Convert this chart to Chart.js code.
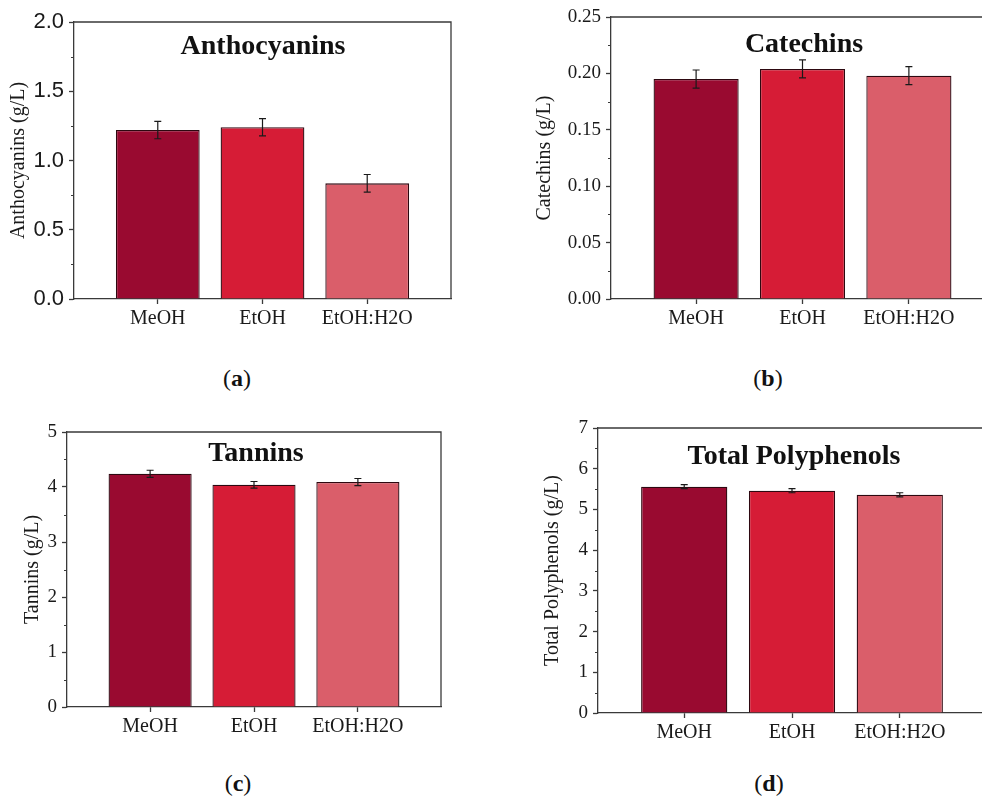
<!DOCTYPE html>
<html>
<head>
<meta charset="utf-8">
<script src="https://cdn.jsdelivr.net/npm/chart.js@4.4.1/dist/chart.umd.min.js"></script>
<style>
  body { margin: 0; width: 982px; height: 796px; overflow: hidden; background: #fff; position: relative; font-family: 'Liberation Serif', serif; }
  canvas { position: absolute; }
  .lbl { position: absolute; font-size: 24px; color: #111; transform: translate(-50%, -50%); white-space: nowrap; }
</style>
</head>
<body>
<canvas id="chartA"></canvas>
<canvas id="chartB"></canvas>
<canvas id="chartC"></canvas>
<canvas id="chartD"></canvas>
<div class="lbl" style="left:237px;top:378px">(<b>a</b>)</div>
<div class="lbl" style="left:768px;top:378px">(<b>b</b>)</div>
<div class="lbl" style="left:238px;top:783px">(<b>c</b>)</div>
<div class="lbl" style="left:769px;top:783px">(<b>d</b>)</div>
<script>
// datos
var solvents = ['MeOH', 'EtOH', 'EtOH:H2O'];
var xPos = [1, 2, 3];
var barColors = ['#990a30', '#d61c36', '#da5e6a'];

var anthocyanins = [1.22, 1.24, 0.835];
var anthocyaninsErr = [0.063, 0.062, 0.064];
var catechins = [0.195, 0.204, 0.198];
var catechinsErr = [0.008, 0.008, 0.008];
var tannins = [4.24, 4.04, 4.09];
var tanninsErr = [0.065, 0.06, 0.065];
var polyphenols = [5.56, 5.46, 5.36];
var polyphenolsErr = [0.05, 0.05, 0.05];

// rangos de los ejes y
var anthoMax = 2, anthoStep = 0.5;
var catMax = 0.25, catStep = 0.05;
var tanMax = 5, tanStep = 1;
var polyMax = 7, polyStep = 1;

var serif = "'Liberation Serif', serif";
var axisColor = '#3a3a3a';
var textColor = '#1a1a1a';

// marco, ticks menores, titulo y barras de error
var deco = {
  id: 'deco',
  afterDatasetsDraw: (chart, args, o) => {
    var ctx = chart.ctx;
    var y = chart.scales.y;
    var meta = chart.getDatasetMeta(0);
    ctx.save();
    ctx.strokeStyle = '#1a1a1a';
    ctx.lineWidth = 1.2;
    meta.data.forEach((bar, i) => {
      var top = y.getPixelForValue(o.values[i] + o.err[i]);
      var bot = y.getPixelForValue(o.values[i] - o.err[i]);
      ctx.beginPath();
      ctx.moveTo(bar.x, top); ctx.lineTo(bar.x, bot);
      ctx.moveTo(bar.x - 3.5, top); ctx.lineTo(bar.x + 3.5, top);
      ctx.moveTo(bar.x - 3.5, bot); ctx.lineTo(bar.x + 3.5, bot);
      ctx.stroke();
    });
    ctx.restore();
  },
  afterDraw: (chart, args, o) => {
    var ctx = chart.ctx;
    var a = chart.chartArea;
    var y = chart.scales.y;
    ctx.save();
    ctx.strokeStyle = axisColor;
    ctx.lineWidth = 1.3;
    ctx.beginPath();
    ctx.moveTo(a.left, a.top); ctx.lineTo(a.right, a.top); ctx.lineTo(a.right, a.bottom);
    ctx.stroke();
    ctx.lineWidth = 1;
    ctx.beginPath();
    for (var v = o.step / 2; v < o.max; v += o.step) {
      var py = Math.round(y.getPixelForValue(v)) + 0.5;
      ctx.moveTo(a.left, py); ctx.lineTo(a.left - 3, py);
    }
    ctx.stroke();
    ctx.fillStyle = '#111';
    ctx.font = 'bold 28px ' + serif;
    ctx.textAlign = 'center';
    ctx.textBaseline = 'middle';
    ctx.fillText(o.title, o.tx, o.ty);
    ctx.restore();
  }
};

panel = (id, box, area, o) => {
  var cv = document.getElementById(id);
  cv.width = box.w; cv.height = box.h;
  cv.style.left = box.x + 'px';
  cv.style.top = box.y + 'px';
  var yw = area.l - box.x;
  var xh = box.y + box.h - area.b;
  return new Chart(cv, {
    type: 'bar',
    data: {
      datasets: [{
        data: xPos.map((x, i) => ({ x: x, y: o.values[i] })),
        backgroundColor: barColors,
        borderColor: '#2d0810',
        borderWidth: 1.3,
        barPercentage: 1,
        categoryPercentage: 0.8
      }]
    },
    options: {
      responsive: false,
      animation: false,
      events: [],
      layout: { padding: { left: 0, top: area.t - box.y, right: box.x + box.w - area.r, bottom: 0 } },
      plugins: {
        legend: { display: false },
        tooltip: { enabled: false },
        deco: { values: o.values, err: o.err, max: o.max, step: o.step, title: o.title, tx: o.tx - box.x, ty: o.ty - box.y }
      },
      scales: {
        x: {
          type: 'linear', min: 0.2, max: 3.8, bounds: 'data', offset: false, z: 1,
          afterBuildTicks: (s) => { s.ticks = xPos.map(v => ({ value: v })); },
          afterFit: (s) => { s.height = xh; },
          grid: { offset: false, drawOnChartArea: false, tickLength: 5, tickColor: axisColor, tickWidth: 1.3 },
          border: { color: axisColor, width: 1.3 },
          ticks: { callback: (v, i) => solvents[i], autoSkip: false, maxRotation: 0, padding: 3, color: textColor, font: { family: serif, size: 20 } }
        },
        y: {
          min: 0, max: o.max, z: 1,
          afterFit: (s) => { s.width = yw; },
          grid: { drawOnChartArea: false, tickLength: 5, tickColor: axisColor, tickWidth: 1.3 },
          border: { color: axisColor, width: 1.3 },
          ticks: { stepSize: o.step, callback: (v) => v.toFixed(o.dec), padding: 5, color: textColor, font: o.tickFont },
          title: { display: true, text: o.ytitle, color: textColor, font: { family: serif, size: 20 }, padding: { top: o.tpad, bottom: 0 } }
        }
      }
    },
    plugins: [deco]
  });
}

panel('chartA', { x: 0, y: 0, w: 470, h: 345 }, { l: 74, t: 22, r: 451, b: 299 }, {
  values: anthocyanins, err: anthocyaninsErr, max: anthoMax, step: anthoStep, dec: 1,
  tickFont: { family: "'Liberation Sans', Arial, sans-serif", size: 22 },
  ytitle: 'Anthocyanins (g/L)', tpad: 7, title: 'Anthocyanins', tx: 263, ty: 47
});
panel('chartB', { x: 520, y: 0, w: 480, h: 345 }, { l: 611, t: 17, r: 994, b: 299 }, {
  values: catechins, err: catechinsErr, max: catMax, step: catStep, dec: 2,
  tickFont: { family: serif, size: 19 },
  ytitle: 'Catechins (g/L)', tpad: 13, title: 'Catechins', tx: 804, ty: 45
});
panel('chartC', { x: 0, y: 400, w: 470, h: 355 }, { l: 67, t: 432, r: 441, b: 707 }, {
  values: tannins, err: tanninsErr, max: tanMax, step: tanStep, dec: 0,
  tickFont: { family: serif, size: 19 },
  ytitle: 'Tannins (g/L)', tpad: 21, title: 'Tannins', tx: 256, ty: 454
});
panel('chartD', { x: 520, y: 400, w: 480, h: 355 }, { l: 598, t: 428, r: 986, b: 713 }, {
  values: polyphenols, err: polyphenolsErr, max: polyMax, step: polyStep, dec: 0,
  tickFont: { family: serif, size: 19 },
  ytitle: 'Total Polyphenols (g/L)', tpad: 21, title: 'Total Polyphenols', tx: 794, ty: 457
});
</script>
</body>
</html>
